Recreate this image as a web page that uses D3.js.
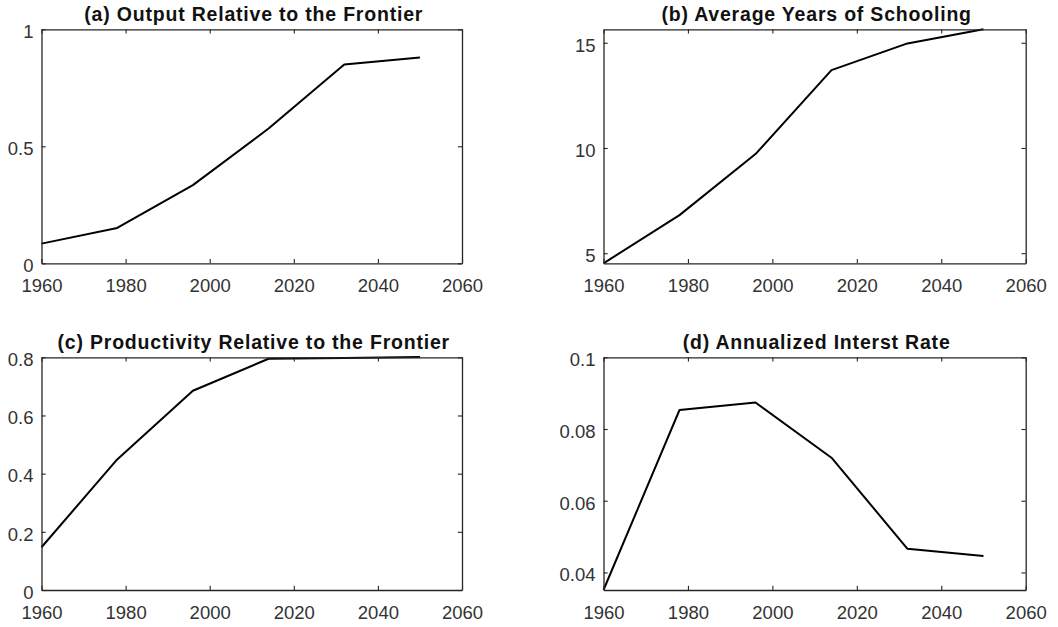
<!DOCTYPE html>
<html>
<head>
<meta charset="utf-8">
<script src="https://cdn.jsdelivr.net/npm/d3@7"></script>
<style>
  html, body { margin: 0; padding: 0; background: #fff; }
  svg { display: block; }
  text { font-family: "Liberation Sans", Arial, sans-serif; }
</style>
</head>
<body>
<svg id="chart" width="1058" height="627"></svg>
<script>
// Simulation periods (18-year generations)
const years = [1960, 1978, 1996, 2014, 2032, 2050];

// Series values per period
const outputRel    = [0.084, 0.151, 0.334, 0.576, 0.850, 0.879];
const schooling    = [4.52, 6.81, 9.71, 13.70, 14.97, 15.64];
const productivity = [0.147, 0.449, 0.685, 0.795, 0.798, 0.801];
const interest     = [0.0351, 0.0853, 0.0874, 0.0720, 0.0466, 0.0446];

// Axis ticks
const xTicks = [1960, 1980, 2000, 2020, 2040, 2060];
const ticksA = [0, 0.5, 1];
const ticksB = [5, 10, 15];
const ticksC = [0, 0.2, 0.4, 0.6, 0.8];
const ticksD = [0.04, 0.06, 0.08, 0.1];

const titles = [
  "(a) Output Relative to the Frontier",
  "(b) Average Years of Schooling",
  "(c) Productivity Relative to the Frontier",
  "(d) Annualized Interst Rate"
];

const panels = [
  { title: titles[0], values: outputRel,    yDomain: [0, 1],          yTicks: ticksA, col: 0, row: 0 },
  { title: titles[1], values: schooling,    yDomain: [4.52, 15.64],   yTicks: ticksB, col: 1, row: 0 },
  { title: titles[2], values: productivity, yDomain: [0, 0.8],        yTicks: ticksC, col: 0, row: 1 },
  { title: titles[3], values: interest,     yDomain: [0.0351, 0.1],   yTicks: ticksD, col: 1, row: 1 }
];

const colX = [[41.5, 462], [603.5, 1025.7]];
const rowY = [[29.3, 263.3], [357.3, 590]];
const axisColor = "#262626";
const tickLen = 4.2;

const svg = d3.select("#chart");

panels.forEach(p => {
  const [x0, x1] = colX[p.col];
  const [y0, y1] = rowY[p.row];
  const x = d3.scaleLinear().domain([1960, 2060]).range([x0, x1]);
  const y = d3.scaleLinear().domain(p.yDomain).range([y1, y0]);

  const g = svg.append("g");

  // Data line
  const line = d3.line().x((d, i) => x(years[i])).y(d => y(d));
  g.append("path")
    .datum(p.values)
    .attr("d", line)
    .attr("fill", "none")
    .attr("stroke", "#000")
    .attr("stroke-width", 2)
    .attr("stroke-linejoin", "round");

  // Bottom and left axes with labels, inward ticks
  const xAxis = d3.axisBottom(x).tickValues(xTicks).tickFormat(d3.format("d"))
    .tickSizeInner(-tickLen).tickSizeOuter(0).tickPadding(16);
  const yAxis = d3.axisLeft(y).tickValues(p.yTicks).tickFormat(d => String(d))
    .tickSizeInner(-tickLen).tickSizeOuter(0).tickPadding(8);
  // Top and right mirrored ticks (box)
  const xTop = d3.axisTop(x).tickValues(xTicks).tickFormat("")
    .tickSizeInner(-tickLen).tickSizeOuter(0);
  const yRight = d3.axisRight(y).tickValues(p.yTicks).tickFormat("")
    .tickSizeInner(-tickLen).tickSizeOuter(0);

  const axes = [
    g.append("g").attr("transform", `translate(0,${y1})`).call(xAxis),
    g.append("g").attr("transform", `translate(${x0},0)`).call(yAxis),
    g.append("g").attr("transform", `translate(0,${y0})`).call(xTop),
    g.append("g").attr("transform", `translate(${x1},0)`).call(yRight)
  ];
  axes.forEach(a => {
    a.select(".domain").attr("stroke", axisColor).attr("stroke-width", 1.3);
    a.selectAll(".tick line").attr("stroke", axisColor).attr("stroke-width", 1.1);
    a.selectAll(".tick text")
      .attr("fill", "#333")
      .style("font-size", "18.5px")
      .style("font-family", "'Liberation Sans', Arial, sans-serif");
  });
  axes[1].selectAll(".tick text").attr("dy", "0.45em");

  // Title
  svg.append("text")
    .attr("x", (x0 + x1) / 2 + 2)
    .attr("y", y0 - 8.5)
    .attr("text-anchor", "middle")
    .style("font-size", "19.5px")
    .style("font-weight", "bold")
    .style("letter-spacing", "0.8px")
    .attr("fill", "#111")
    .text(p.title);
});
</script>
</body>
</html>
